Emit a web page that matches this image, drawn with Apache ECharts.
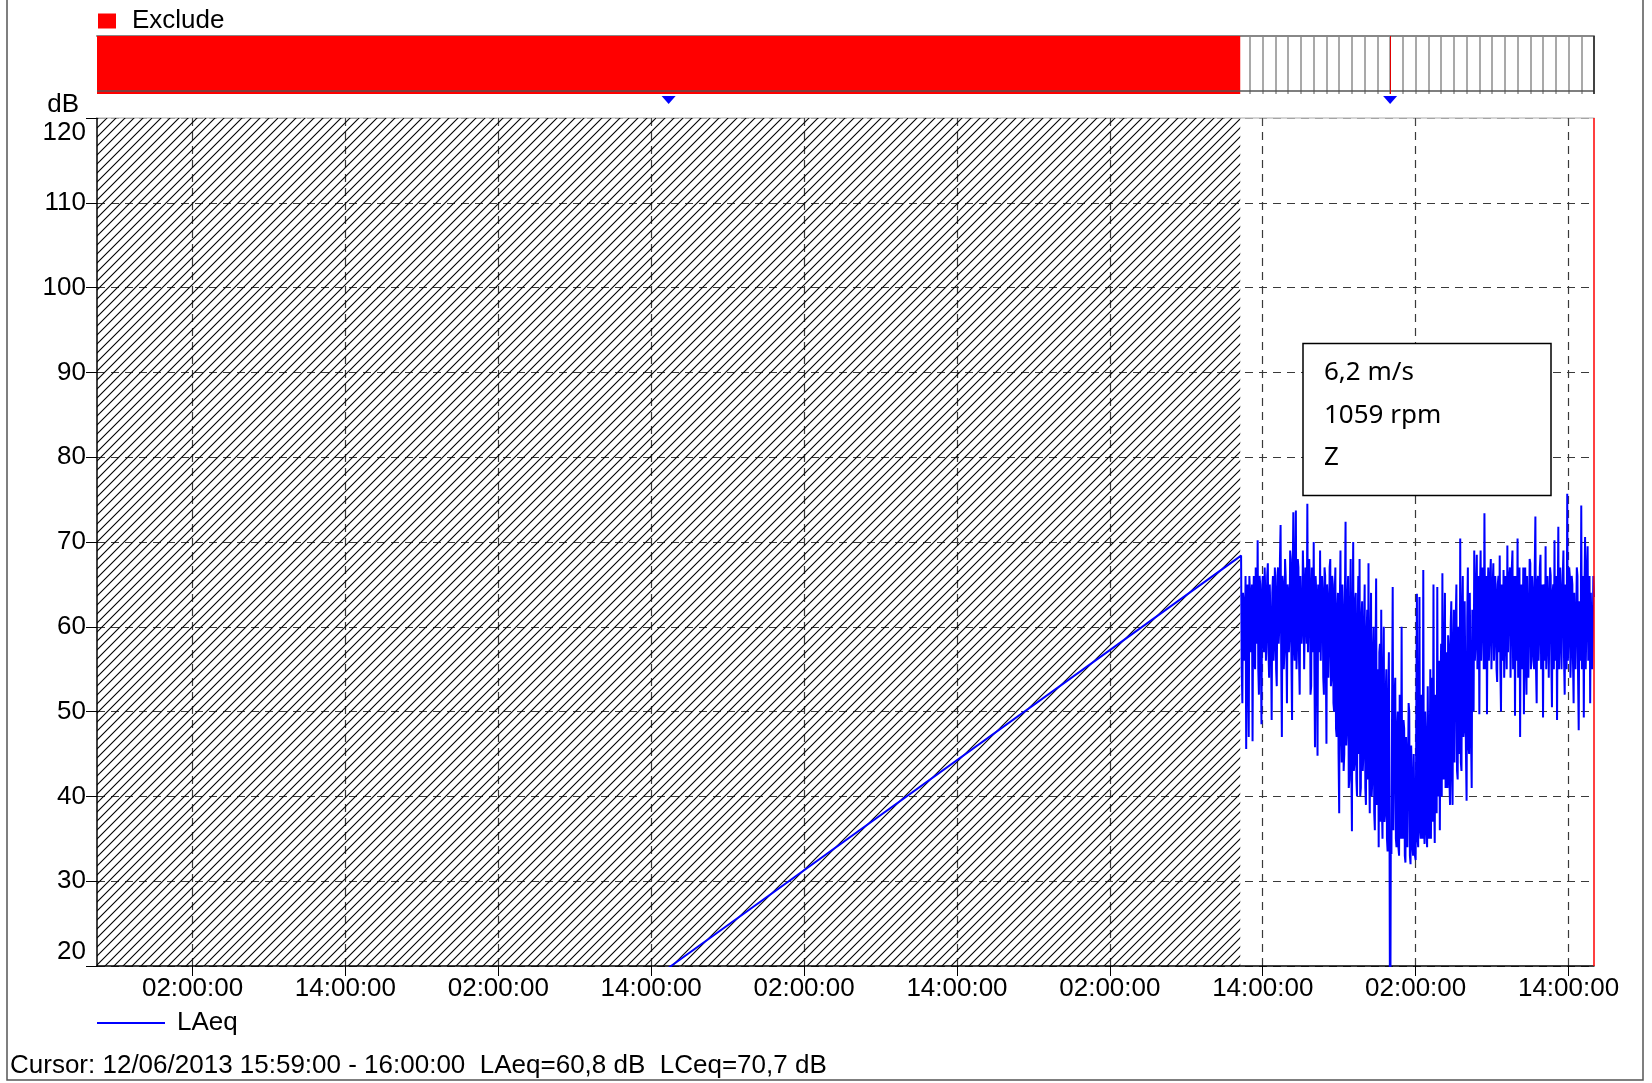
<!DOCTYPE html>
<html><head><meta charset="utf-8">
<script src="https://cdn.jsdelivr.net/npm/echarts@6/dist/echarts.min.js"></script>
<style>html,body{margin:0;padding:0;background:#fff}#c{width:1652px;height:1083px}</style>
</head><body><div id="c"></div>
<script>
// ---------- data ----------
const axisStart = '2013-06-07 18:30';
const axisEnd = '2013-06-12 16:00';
const tickTimes = ['2013-06-08 02:00','2013-06-08 14:00','2013-06-09 02:00','2013-06-09 14:00','2013-06-10 02:00',
                   '2013-06-10 14:00','2013-06-11 02:00','2013-06-11 14:00','2013-06-12 02:00','2013-06-12 14:00'];
const yMin = 20, yMax = 120, yStep = 10;
const excludeRange = ['2013-06-07 18:30', '2013-06-11 12:14'];
const gapStartTime = '2013-06-09 15:22';
const gapStartValue = 19.8;
const noiseStart = '2013-06-11 12:18';
const noiseStepMinutes = 3;
const laeqValues = [
 68.4,55, 51,64, 63,56, 58,66, 45.6,62, 65,54, 47,66, 64,57, 57,65, 46.5,63,
 66,56, 55,67, 63,58, 70.2,55, 52,66, 65,57, 48.5,64, 66,59, 57,67, 64,56,
 59,66, 67.5,57, 54,65, 65,58, 49,64, 66,56, 58,67, 64,55, 53,66, 67,58,
 60,68, 72,56, 47,66, 65,55, 57,68, 66,58, 51,65, 64,57, 59,69, 68,56,
 49,66, 73.5,58, 56,67, 73.7,55, 58,68, 67,56, 52,66, 66,58, 60,69, 65,55,
 55,67, 67,58, 74.5,57, 57,68, 65,52, 53,67, 66,57, 70,56, 45.8,66, 64,55,
 44.8,65, 65,57, 69,56, 56,66, 64,54, 52,67, 66,56, 46.2,65, 63,54, 58,67,
 68,53, 54,66, 65,51, 50,64, 67,48, 47,62, 64,45, 38,63, 69,48, 44,65,
 62,43, 45,64, 72.4,46, 48,63, 66,41, 42,62, 68,44, 35.9,61, 70,43, 44,63,
 64,42, 40,60, 66,45, 68,40, 41,61, 63,43, 45,60, 65,41, 39,59, 62,42,
 67.5,44, 38,58, 64,40, 42,57, 60,38, 36,56, 65.7,39, 40,55, 34,57, 58,37,
 62,39, 35,54, 60,37, 38,52, 55,35, 33.5,51, 57,36, 5,34, 33.2,50, 64.7,36,
 36,52, 54,35, 34,48, 50,34, 33,52, 45,35, 60,36, 35,49, 48,33, 32.2,47,
 44,34, 34,51, 50,33, 32,46, 42.4,34, 33,45, 38,33, 32.5,49, 63.9,35, 34,50,
 63.5,36, 35,52, 48,35, 66.7,37, 34.4,50, 47,36, 34,53, 44,35, 41.9,55, 35,48,
 54,37, 65,40, 34.5,52, 45,38, 64.7,41, 40,56, 36,52, 58,40, 66.3,44, 42,58,
 64,41, 45,57, 41,59, 57.6,42, 39,60, 63,43, 39,58, 62,44, 44,61, 65,43,
 42,60, 60,45, 70.4,44, 43,62, 66,47, 48,63, 63,45, 39.5,61, 67,46, 45,64,
 64,47, 41,62, 62,50, 69,56, 58,65, 68.5,55, 56.8,66, 49.7,64, 69,56, 60,67,
 66,55, 73.4,60, 55,66, 49.7,63, 67,56, 59,66, 68,55, 60,65, 67.5,56, 59,66,
 64,55, 53.5,65, 66,57, 68.4,55, 50,65, 63,56, 66.7,54, 58,66, 65,55, 69.6,57,
 57,66, 67,54, 60,67, 69,55, 55,66, 49.5,64, 66,56, 70.4,54, 58,67, 47,63,
 65,55, 59,67, 49.7,64, 67,56, 52,66, 66,54, 60,68, 67.5,55, 57,66, 64,56,
 55,67, 73,55, 51,65, 66,56, 59,67, 68.5,55, 57,65, 49.3,63, 65,56, 69.5,55,
 58,66, 63,54, 54,67, 66,56, 50.5,64, 65,55, 70.2,56, 56,66, 49,63, 71.8,55,
 58,67, 64,55, 61,66, 69,56, 52,65, 62,55, 75.7,56, 59,67, 66,54, 57,66,
 65,56, 51,64, 64,55, 60,67, 66,54, 47.8,63, 63,56, 74.3,55, 58,66, 49.3,64,
 70.6,55, 60,67, 69.5,56, 58,66, 51,64, 64,55, 59,66, 63.5
];
const markerTimes = ['2013-06-09 15:22', '2013-06-12 00:00'];
const dayMarkTime = '2013-06-12 00:00';
const cursorTime = '2013-06-12 16:00';
const noteLines = ['6,2 m/s', '1059 rpm', 'Z'];
const cursorText = 'Cursor: 12/06/2013 15:59:00 - 16:00:00  LAeq=60,8 dB  LCeq=70,7 dB';

// ---------- helpers ----------
function t(s){ return new Date(s.replace(' ', 'T') + ':00').getTime(); }
const pad = n => String(n).padStart(2, '0');
const FONT = "'Liberation Sans', Arial, sans-serif";
const FS = 26;
const HOUR = 3600000;
function hatch(){
  const s = 9, c = document.createElement('canvas');
  c.width = s; c.height = s;
  const g = c.getContext('2d');
  g.strokeStyle = '#000'; g.lineWidth = 1.1;
  g.beginPath();
  g.moveTo(-1, s + 1); g.lineTo(s + 1, -1);
  g.moveTo(-1, 1); g.lineTo(1, -1);
  g.moveTo(s - 1, s + 1); g.lineTo(s + 1, s - 1);
  g.stroke();
  return c;
}
const tickTs = tickTimes.map(t);
const xMin = t(axisStart), xMax = t(axisEnd);
const hourTicks = [];
for (let h = Math.ceil(xMin / HOUR) * HOUR; h <= xMax; h += HOUR) hourTicks.push(h);
const laeqData = [[t(gapStartTime), gapStartValue]];
laeqValues.forEach((v, i) => laeqData.push([t(noiseStart) + i * noiseStepMinutes * 60000, v]));

const chart = echarts.init(document.getElementById('c'), null, {renderer: 'canvas'});
chart.setOption({
  animation: false,
  backgroundColor: '#fff',
  textStyle: {fontFamily: FONT},
  grid: [
    {left: 97, top: 118, width: 1497, height: 848},
    {left: 97, top: 36, width: 1497, height: 58}
  ],
  xAxis: [
    {type: 'value', gridIndex: 0, min: xMin, max: xMax, position: 'bottom', scale: true,
     axisLine: {show: true, onZero: false, lineStyle: {color: '#000', width: 1.5}},
     axisTick: {show: true, customValues: tickTs, length: 10, lineStyle: {color: '#000', width: 1}},
     axisLabel: {customValues: tickTs, hideOverlap: false, fontSize: FS, color: '#000', margin: 10, fontFamily: FONT,
       formatter: v => { const d = new Date(v); return pad(d.getHours()) + ':' + pad(d.getMinutes()) + ':' + pad(d.getSeconds()); }},
     splitLine: {show: true, lineStyle: {color: '#3a3a3a', type: [8, 6], width: 1.2}}},
    {type: 'value', gridIndex: 0, min: xMin, max: xMax, position: 'top', scale: true,
     axisLine: {show: true, onZero: false, lineStyle: {color: '#c8c8c8', width: 1.5}},
     axisTick: {show: true, inside: true, customValues: tickTs, length: 7, lineStyle: {color: '#444'}},
     axisLabel: {show: false}, splitLine: {show: false}},
    {type: 'value', gridIndex: 1, min: xMin, max: xMax, position: 'top', scale: true,
     axisLine: {show: true, onZero: false, lineStyle: {color: '#888', width: 2}},
     axisTick: {show: false, customValues: hourTicks}, axisLabel: {show: false},
     splitLine: {show: true, lineStyle: {color: '#8c8c8c', width: 1.5}}}
  ],
  yAxis: [
    {type: 'value', gridIndex: 0, min: yMin, max: yMax, interval: yStep,
     name: 'dB', nameLocation: 'end', nameGap: 0, nameMoveOverlap: false,
     nameTextStyle: {fontSize: FS, color: '#000', align: 'right', padding: [0, 18, 0, 0], fontFamily: FONT},
     axisLine: {show: true, onZero: false, lineStyle: {color: '#000', width: 1.5}},
     axisTick: {show: true, length: 11, lineStyle: {color: '#000'}},
     axisLabel: {fontSize: FS, color: '#000', margin: 11, lineHeight: 29, fontFamily: FONT,
       formatter: v => v === yMax ? '\n' + v : (v === yMin ? v + '\n' : String(v))},
     splitLine: {show: true, lineStyle: {color: '#3a3a3a', type: [8, 6], width: 1.2}}},
    {type: 'value', gridIndex: 1, min: 0, max: 1, show: false}
  ],
  legend: [
    {data: [{name: 'LAeq', icon: 'rect'}], left: 97, top: 1010, padding: 0, itemWidth: 68, itemHeight: 2, selectedMode: false,
     itemStyle: {color: '#0000ff', borderWidth: 0},
     textStyle: {fontSize: FS, color: '#000', fontFamily: FONT, padding: [0, 0, 0, 7]}},
    {data: [{name: 'Exclude', icon: 'rect'}], left: 98, top: 8, padding: 0, itemWidth: 18, itemHeight: 15, selectedMode: false,
     itemStyle: {color: '#ff0000', borderWidth: 0},
     textStyle: {fontSize: FS, color: '#000', fontFamily: FONT, padding: [0, 0, 0, 11]}}
  ],
  title: [
    {text: cursorText, left: 10, top: 1053, padding: 0,
     textStyle: {fontFamily: FONT, fontSize: FS, fontWeight: 'normal', color: '#000'}}
  ],
  graphic: [
    {type: 'rect', silent: true, shape: {x: 7, y: -5, width: 1636, height: 1085},
     style: {fill: 'none', stroke: '#555', lineWidth: 1.5}, z: 100},
    {type: 'rect', silent: true, shape: {x: 1303, y: 343.5, width: 248, height: 152},
     style: {fill: '#fff', stroke: '#000', lineWidth: 1.5}, z: 50}
  ].concat(noteLines.map((s, i) => ({
     type: 'text', silent: true, x: 1324, y: 373 + i * 42.5, z: 51,
     style: {text: s, fill: '#000', fontSize: 26, fontFamily: "'Noto Sans', 'Open Sans', sans-serif", verticalAlign: 'middle', align: 'left'}
  }))),
  series: [
    {name: 'LAeq', type: 'line', xAxisIndex: 0, yAxisIndex: 0, data: laeqData,
     symbol: 'none', showSymbol: false, color: '#0000ff', clip: true, z: 3, sampling: null,
     lineStyle: {color: '#0000ff', width: 2},
     markArea: {silent: true, itemStyle: {color: {image: hatch(), repeat: 'repeat'}, opacity: 1, borderWidth: 0},
       data: [[{xAxis: t(excludeRange[0])}, {xAxis: t(excludeRange[1])}]]},
     markLine: {silent: true, symbol: ['none', 'none'], label: {show: false},
       lineStyle: {color: '#ff0000', width: 1.5, type: 'solid'}, data: [{xAxis: t(cursorTime)}]}},
    {name: 'Exclude', type: 'line', xAxisIndex: 2, yAxisIndex: 1,
     data: [[t(excludeRange[0]), 1], [t(excludeRange[1]), 1]],
     symbol: 'none', color: '#ff0000', lineStyle: {width: 0}, areaStyle: {color: '#ff0000', opacity: 1}, z: 4},
    {name: 'frame', type: 'line', xAxisIndex: 2, yAxisIndex: 1, data: [], clip: false, z: 3,
     markLine: {silent: true, symbol: ['none', 'none'], label: {show: false}, data: [
       {yAxis: 0.055, lineStyle: {color: '#555', width: 1.5, type: 'solid'}},
       {xAxis: t(axisEnd), lineStyle: {color: '#222', width: 1.5, type: 'solid'}},
       {xAxis: t(dayMarkTime), lineStyle: {color: '#e00000', width: 1, type: 'solid'}}
     ]},
     markPoint: {silent: true, symbol: 'triangle', symbolRotate: 180, symbolSize: [14, 8], symbolOffset: [0, 6],
       itemStyle: {color: '#0000ff'}, label: {show: false},
       data: markerTimes.map(m => ({coord: [t(m), 0]}))}}
  ]
});
</script>
</body></html>
